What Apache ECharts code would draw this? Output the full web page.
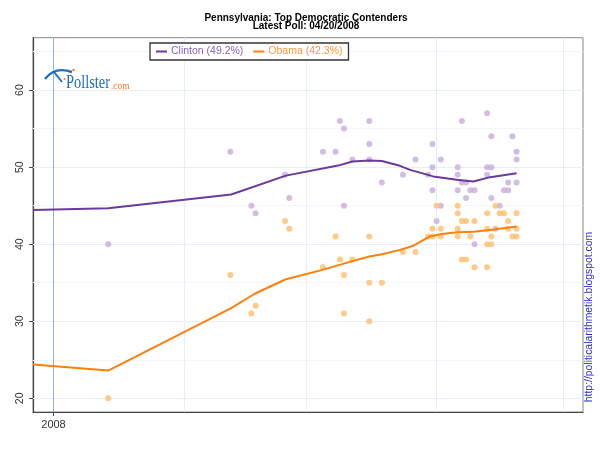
<!DOCTYPE html>
<html>
<head>
<meta charset="utf-8">
<script src="https://cdn.jsdelivr.net/npm/echarts@6/dist/echarts.min.js"></script>
<style>html,body{margin:0;padding:0;background:#fff}#c{width:600px;height:450px}</style>
</head>
<body>
<div id="c"></div>
<script>
// x values are days counted from 1 Jan 2008 (day 0)
const clintonTrendDays = [-4.87, 13, 42.2, 55.2, 67.6, 71.0, 75.0, 78.0, 82.3, 84.7, 90.2, 95.8, 99.7, 103.7, 110];
const clintonTrend     = [44.45, 44.65, 46.45, 48.9, 50.2, 50.73, 50.86, 50.8, 50.17, 49.65, 48.8, 48.35, 48.13, 48.7, 49.2];
const obamaTrendDays = [-4.87, 13, 42.2, 47.9, 55.2, 64.1, 71.0, 75.0, 78.0, 82.3, 85.5, 89.4, 92.2, 95.8, 99.7, 103.7, 110];
const obamaTrend     = [24.4, 23.6, 31.7, 33.6, 35.45, 36.7, 37.8, 38.4, 38.7, 39.26, 39.8, 41.0, 41.33, 41.55, 41.6, 41.85, 42.3];

const clintonPollDays = [13,42,47,48,55,56,64,67,68,69,69,71,75,75,75,78,83,86,89,90,90,90,91,92,92,96,96,96,97,97,98,98,99,100,100,103,103,103,104,104,104,105,106,107,108,108,109,110,110,110];
const clintonPolls    = [40,52,45,44,49,46,52,52,56,55,45,51,56,53,51,48,49,51,49,53,50,47,43,51,45,50,49,47,56,48,48,46,47,47,40,57,50,49,54,50,46,42,45,47,48,47,54,52,51,48];
const obamaPollDays = [13,42,47,48,55,56,64,67,68,69,69,71,75,75,75,78,83,86,89,90,90,91,92,92,96,96,96,96,97,97,98,98,99,100,100,103,103,103,103,104,104,105,106,107,108,108,109,110,110,110];
const obamaPolls    = [20,36,31,32,43,42,37,41,38,36,31,38,41,35,30,35,39,39,41,42,41,45,42,41,45,44,42,41,43,38,43,38,41,43,37,44,42,40,37,41,40,45,44,44,43,42,41,44,42,41];

const seriesNames = ['Clinton (49.2%)', 'Obama (42.3%)'];
const yTickLabels = [20, 30, 40, 50, 60];
const yMinorLines = [25, 35, 45, 55, 65];
const monthStartDays = [31, 60, 91, 121];
const yearStartDay = 0;
const xTickLabel = '2008';

const zip = (xs, ys) => xs.map((x, i) => [x, ys[i]]);

const gridLines = [];
yTickLabels.forEach(v => gridLines.push({yAxis: v, lineStyle: {color: '#e6eef9', width: 1, type: 'solid'}}));
yMinorLines.forEach(v => gridLines.push({yAxis: v, lineStyle: {color: '#f1f5fc', width: 1, type: 'solid'}}));
monthStartDays.forEach(d => gridLines.push({xAxis: d, lineStyle: {color: '#e6eef9', width: 1, type: 'solid'}}));
gridLines.push({xAxis: yearStartDay, lineStyle: {color: '#8db3de', width: 1, type: 'solid'}});

const chart = echarts.init(document.getElementById('c'), null, {renderer: 'canvas'});
chart.setOption({
  animation: false,
  backgroundColor: '#fff',
  textStyle: {fontFamily: 'Liberation Sans, Arial, sans-serif'},
  grid: {left: 33, right: 17, top: 37.7, bottom: 38, show: true, borderColor: '#888', borderWidth: 1, backgroundColor: 'transparent'},
  legend: {
    left: 150, top: 43, z: 20,
    orient: 'horizontal',
    padding: [3, 6, 3, 6],
    itemGap: 10,
    itemWidth: 11, itemHeight: 2,
    icon: 'rect',
    borderColor: '#333', borderWidth: 1.3, borderRadius: 0,
    backgroundColor: '#fff',
    textStyle: {fontSize: 10.5, padding: [0, 0, 0, -1]},
    data: [
      {name: seriesNames[0], textStyle: {color: '#8b63b9'}},
      {name: seriesNames[1], textStyle: {color: '#ff963a'}}
    ]
  },
  xAxis: {
    type: 'value',
    min: -4.87, max: 125.77,
    axisLine: {show: true, onZero: false, lineStyle: {color: '#444', width: 1.2}},
    axisTick: {show: true, length: 4, customValues: [yearStartDay], lineStyle: {color: '#444'}},
    axisLabel: {customValues: [yearStartDay], formatter: () => xTickLabel, color: '#333', fontSize: 11, margin: 7},
    splitLine: {show: false}
  },
  yAxis: {
    type: 'value',
    min: 18.22, max: 66.8,
    axisLine: {show: true, onZero: false, lineStyle: {color: '#444', width: 1.2}},
    axisTick: {show: true, length: 4, customValues: yTickLabels, lineStyle: {color: '#444'}},
    axisLabel: {customValues: yTickLabels, rotate: 90, color: '#333', fontSize: 10.5, margin: 7},
    splitLine: {show: false}
  },
  series: [
    {
      name: 'grid', type: 'line', z: 1, silent: true, showSymbol: false,
      data: zip(clintonTrendDays, clintonTrend),
      lineStyle: {opacity: 0},
      markLine: {silent: true, z: 1, symbol: ['none', 'none'], label: {show: false}, emphasis: {disabled: true}, data: gridLines}
    },
    {
      name: 'Clinton polls', type: 'scatter', z: 2, symbolSize: 6,
      itemStyle: {color: '#c8acdc'},
      data: zip(clintonPollDays, clintonPolls)
    },
    {
      name: 'Obama polls', type: 'scatter', z: 2, symbolSize: 6,
      itemStyle: {color: '#ffbe6c'},
      data: zip(obamaPollDays, obamaPolls)
    },
    {
      name: seriesNames[0], type: 'line', z: 3, showSymbol: false,
      color: '#6a3a9c',
      lineStyle: {width: 2, color: '#6a3a9c'},
      data: zip(clintonTrendDays, clintonTrend)
    },
    {
      name: seriesNames[1], type: 'line', z: 3, showSymbol: false,
      color: '#ff7f0a',
      lineStyle: {width: 2, color: '#ff7f0a'},
      data: zip(obamaTrendDays, obamaTrend)
    }
  ],
  graphic: [
    {type: 'text', x: 306, y: 18.5, z: 10,
     style: {text: 'Pennsylvania: Top Democratic Contenders', fill: '#000', font: 'bold 10px "Liberation Sans", Arial, sans-serif', textAlign: 'center', textVerticalAlign: 'middle'}},
    {type: 'text', x: 306, y: 25.8, z: 10,
     style: {text: 'Latest Poll: 04/20/2008', fill: '#000', font: 'bold 10px "Liberation Sans", Arial, sans-serif', textAlign: 'center', textVerticalAlign: 'middle'}},
    {type: 'text', x: 589, y: 317, rotation: Math.PI / 2, z: 10,
     style: {text: 'http://politicalarithmetik.blogspot.com', fill: '#2a2ad8', font: '10.4px "Liberation Sans", Arial, sans-serif', textAlign: 'center', textVerticalAlign: 'middle'}},
    // Pollster.com logo
    {type: 'bezierCurve', z: 10, shape: {x1: 45, y1: 79, cpx1: 55, cpy1: 66, x2: 72, y2: 72}, style: {stroke: '#1f6fc0', lineWidth: 2.4, fill: null}},
    {type: 'bezierCurve', z: 10, shape: {x1: 54, y1: 72, cpx1: 58, cpy1: 77, x2: 62, y2: 82}, style: {stroke: '#1f6fc0', lineWidth: 2, fill: null}},
    {type: 'circle', z: 10, shape: {cx: 73.5, cy: 70, r: 1.2}, style: {fill: '#f07a22'}},
    {type: 'circle', z: 10, shape: {cx: 64.5, cy: 79, r: 1}, style: {fill: '#f07a22'}},
    {type: 'text', x: 66, y: 92, scaleX: 0.8, z: 10,
     style: {text: 'Pollster', fill: '#1f6fc0', font: '18px "Liberation Serif", "Times New Roman", serif', textAlign: 'left', textVerticalAlign: 'bottom'}},
    {type: 'text', x: 111, y: 92, scaleX: 0.85, z: 10,
     style: {text: '.com', fill: '#f07a22', font: '11px "Liberation Serif", "Times New Roman", serif', textAlign: 'left', textVerticalAlign: 'bottom'}}
  ]
});
</script>
</body>
</html>
